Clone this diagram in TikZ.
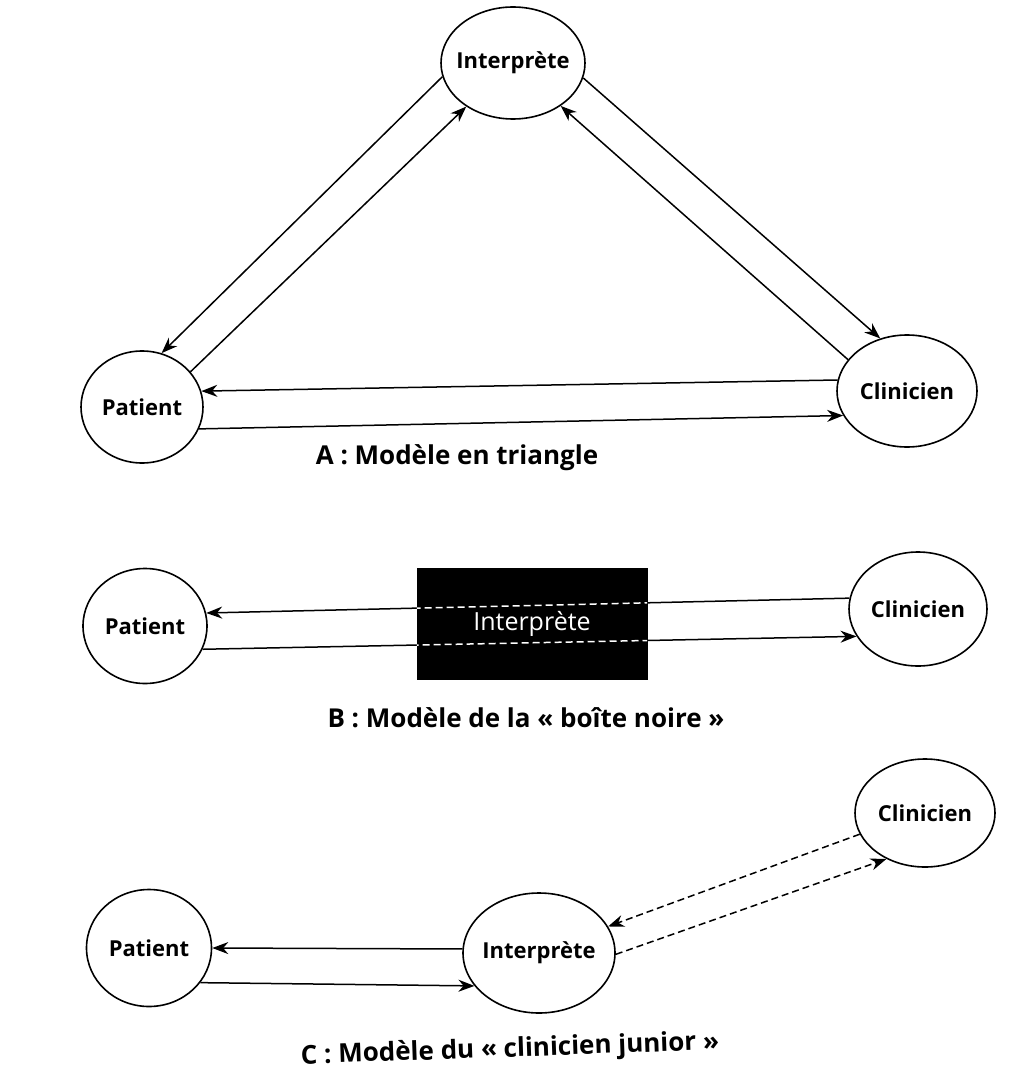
\documentclass[tikz,border=0pt]{standalone}
\usepackage{fontspec}
\setsansfont{Open Sans}
\usetikzlibrary{arrows.meta,shapes.geometric}

\tikzset{
  party/.style={ellipse, draw, line width=1.6pt, inner sep=0pt,
                font=\sffamily\bfseries\fontsize{22}{26}\selectfont},
  flow/.style={line width=1.5pt, -{Stealth[length=16pt,width=12pt]}},
  dflow/.style={flow, dash pattern=on 7pt off 4pt},
  legend/.style={font=\sffamily\bfseries\fontsize{26}{30}\selectfont}
}
\newcommand{\ctr}[1]{\makebox[0pt]{#1}}

\begin{document}
\begin{tikzpicture}[x=1pt,y=-1pt]
            \useasboundingbox (0,0) rectangle (1017,1078);
            % A : triangle
            \node[party, minimum width=144pt, minimum height=112pt] (intA) at (513, 63) {\ctr{Interprète}};
            \node[party, minimum width=122pt, minimum height=112pt] (patA) at (142,407) {\ctr{Patient}};
            \node[party, minimum width=140pt, minimum height=112pt] (cliA) at (907,391) {\ctr{Clinicien}};
            \draw[flow] (patA.36)  -- (intA.223);
            \draw[flow] (intA.191) -- (patA.70);
            \draw[flow] (intA.348) -- (cliA.117);
            \draw[flow] (cliA.152) -- (intA.318);
            \draw[flow] (cliA.171) -- (patA.15);
            \draw[flow] (patA.-21) -- (cliA.201);
            \node[legend] (capA) at (457,458) {A : Modèle en triangle};
            % B : black box
            \node[party, minimum width=124pt, minimum height=115pt] (patB) at (145,626) {\ctr{Patient}};
            \node[draw, fill=black, inner sep=0pt, minimum width=230pt, minimum height=111pt,
                  text=white, font=\sffamily\fontsize{25}{30}\selectfont] (intB) at (532,624) {Interprète};
            \node[party, minimum width=138pt, minimum height=114pt] (cliB) at (918,609) {\ctr{Clinicien}};
            \draw[flow] (cliB.171) -- (patB.12.7);
            \draw[flow] (patB.-22.7) -- (cliB.204);
            % dashed crossing inside the box
            \begin{scope}
                \clip (intB.south west) rectangle (intB.north east);
                \draw[white, line width=1.5pt, dash pattern=on 7pt off 4pt] (cliB.171) -- (patB.12.7);
                \draw[white, line width=1.5pt, dash pattern=on 7pt off 4pt] (patB.-22.7) -- (cliB.204);
            \end{scope}
            \node[legend] (capB) at (526,718) {B : Modèle de la « boîte noire »};
            % C : junior clinician
            \node[party, minimum width=125pt, minimum height=117pt] (patC) at (149,948) {\ctr{Patient}};
            \node[party, minimum width=152pt, minimum height=120pt] (intC) at (539,953) {\ctr{Interprète}};
            \node[party, minimum width=140pt, minimum height=108pt] (cliC) at (925,813) {\ctr{Clinicien}};
            \draw[flow]  (intC.177) -- (patC.0);
            \draw[flow]  (patC.-34) -- (intC.207);
            \draw[dflow] (cliC.198) -- (intC.21.5);
            \draw[dflow] (intC.-1.5) -- (cliC.230);
            \node[legend, rotate=2] (capC) at (510,1050) {C : Modèle du « clinicien junior »};
\end{tikzpicture}
\end{document}
